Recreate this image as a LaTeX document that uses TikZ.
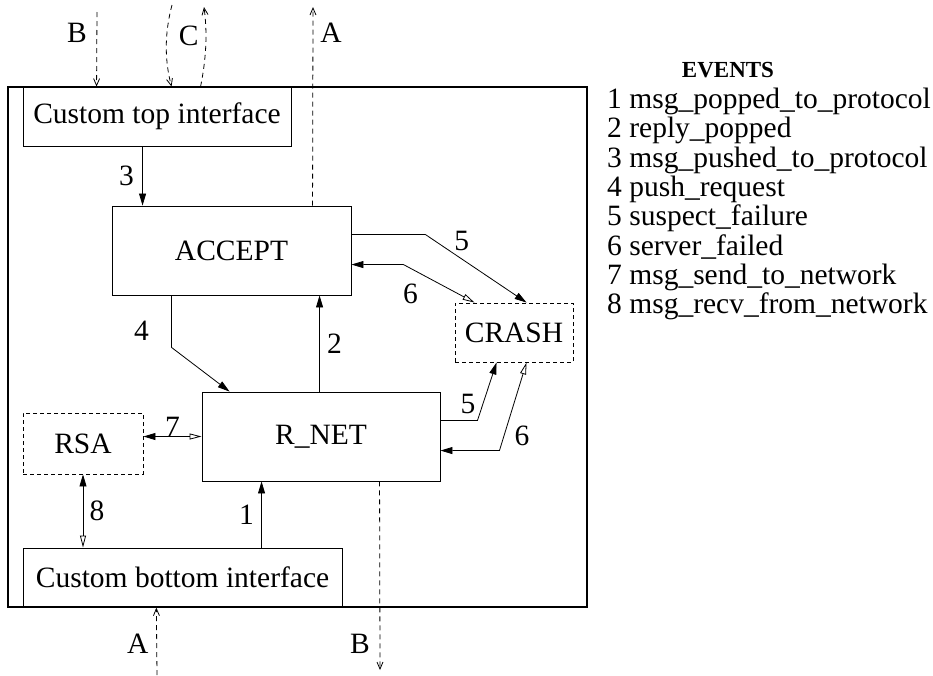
\documentclass[tikz,border=0pt]{standalone}
\usepackage{fontspec}
\setmainfont{Liberation Serif}
\usetikzlibrary{positioning,arrows.meta,calc}

\begin{document}
\begin{tikzpicture}[x=1pt, y=-1pt,
  every node/.style={font=\fontsize{29.5}{29.3}\selectfont},
  box/.style={draw, rectangle, inner sep=0pt, line width=0.9pt},
  ghost/.style={box, dash pattern=on 4pt off 3pt},
  lbl/.style={inner sep=0pt},
  flow/.style={line width=0.8pt, -{Triangle[length=12pt,width=7pt]}},
  duplex/.style={line width=0.8pt, {Triangle[length=12pt,width=7pt]}-{Triangle[open,length=12pt,width=6pt]}},
  extflow/.style={line width=0.8pt, dash pattern=on 5pt off 4pt, -{Straight Barb[length=7pt,width=6pt]}}]
  \useasboundingbox (0,0) rectangle (933,675);

  % the system frame
  \node[draw, line width=1.3pt, inner sep=0pt, minimum width=579pt, minimum height=520pt] (Frame) at (297.5,347) {};

  \node[box, minimum width=268pt, minimum height=59pt] (TopIf) at (157,116.5) {Custom top interface};
  \node[box, minimum width=239pt, minimum height=89pt] (Accept) at (231.5,250.5) {ACCEPT};
  \node[box, minimum width=238pt, minimum height=89pt] (RNet) at (321,436.5) {R\_NET};
  \node[ghost, minimum width=118pt, minimum height=59pt] (Crash) at (514,332.5) {CRASH};
  \node[ghost, minimum width=120pt, minimum height=61pt] (Rsa) at (83,443.5) {RSA};
  \node[box, minimum width=319pt, minimum height=59pt] (BotIf) at (182.5,577.5) {Custom bottom interface};

  % outside ends
  \coordinate (Bt) at (97,12);
  \coordinate (Cd) at (172,5);
  \coordinate (Cu) at (204,7);
  \coordinate (At) at (313,7);
  \coordinate (Ab) at (157,675);
  \coordinate (Bb) at (380,670);

  % events inside
  \draw[flow] ($(TopIf.south west)+(120,0)$) -- node[lbl, midway, xshift=-16pt] (n3) {3} ($(Accept.north west)+(31,0)$);
  \draw[flow] ($(Accept.south west)+(60,0)$) -- node[lbl, pos=0.67, xshift=-30pt] (n4) {4} ++(0,52) -- ($(RNet.north west)+(28,0)$);
  \draw[flow] ($(RNet.north west)+(118,0)$) -- node[lbl, midway, xshift=15pt] (n2) {2} ($(Accept.south west)+(208,0)$);
  \draw[flow] ($(Accept.north east)+(0,29)$) -- ++(74,0) -- node[lbl, pos=0.36, yshift=18pt] (n5a) {5} ($(Crash.north west)+(72,0)$);
  \draw[duplex] ($(Accept.north east)+(0,59)$) -- ++(52,0) -- node[lbl, pos=0.1, yshift=-26pt] (n6a) {6} ($(Crash.north west)+(20,0)$);
  \draw[flow] ($(RNet.north east)+(0,29)$) -- ++(37,0) -- node[lbl, pos=0.29, xshift=-15pt] (n5b) {5} ($(Crash.south west)+(42,0)$);
  \draw[duplex] ($(RNet.north east)+(0,59)$) -- ++(59,0) -- node[lbl, pos=0.17, xshift=18pt] (n6b) {6} ($(Crash.south west)+(72,0)$);
  \draw[duplex] (Rsa.east |- RNet.west) -- node[lbl, midway, yshift=10pt] (n7) {7} (RNet.west);
  \draw[duplex] (Rsa.south) -- node[lbl, midway, xshift=14pt] (n8) {8} (Rsa.south |- BotIf.north);
  \draw[flow] ($(BotIf.north west)+(239,0)$) -- node[lbl, midway, xshift=-15pt] (n1) {1} ($(RNet.south west)+(60,0)$);

  % events outside
  \draw[extflow] (Bt) -- node[lbl, pos=0.28, xshift=-20pt] (nBt) {B} ($(TopIf.north west)+(74,0)$);
  \draw[extflow] (Cd) .. controls (164,35) and (165,62) .. node[lbl, pos=0.35, xshift=22pt] (nC) {C} ($(TopIf.north west)+(149,0)$);
  \draw[extflow] ($(TopIf.north west)+(178,0)$) .. controls (207,55) and (207,30) .. (Cu);
  \draw[extflow] ($(Accept.north west)+(201,0)$) -- node[lbl, pos=0.87, xshift=18pt] (nAt) {A} (At);
  \draw[extflow] (Ab) -- node[lbl, pos=0.46, xshift=-19pt] (nAb) {A} ($(Frame.south west)+(149,0)$);
  \draw[extflow] ($(RNet.south west)+(178,0)$) -- node[lbl, pos=0.86, xshift=-20pt] (nBb) {B} (Bb);

  % legend
  \node[font=\fontsize{23}{26}\selectfont\bfseries] (EvTitle) at (728,70) {EVENTS};
  \node[anchor=north west, align=left, inner sep=0pt] (EvList) at (607,88) {1 msg\_popped\_to\_protocol\\
    2 reply\_popped\\
    3 msg\_pushed\_to\_protocol\\
    4 push\_request\\
    5 suspect\_failure\\
    6 server\_failed\\
    7 msg\_send\_to\_network\\
    8 msg\_recv\_from\_network};
\end{tikzpicture}
\end{document}
